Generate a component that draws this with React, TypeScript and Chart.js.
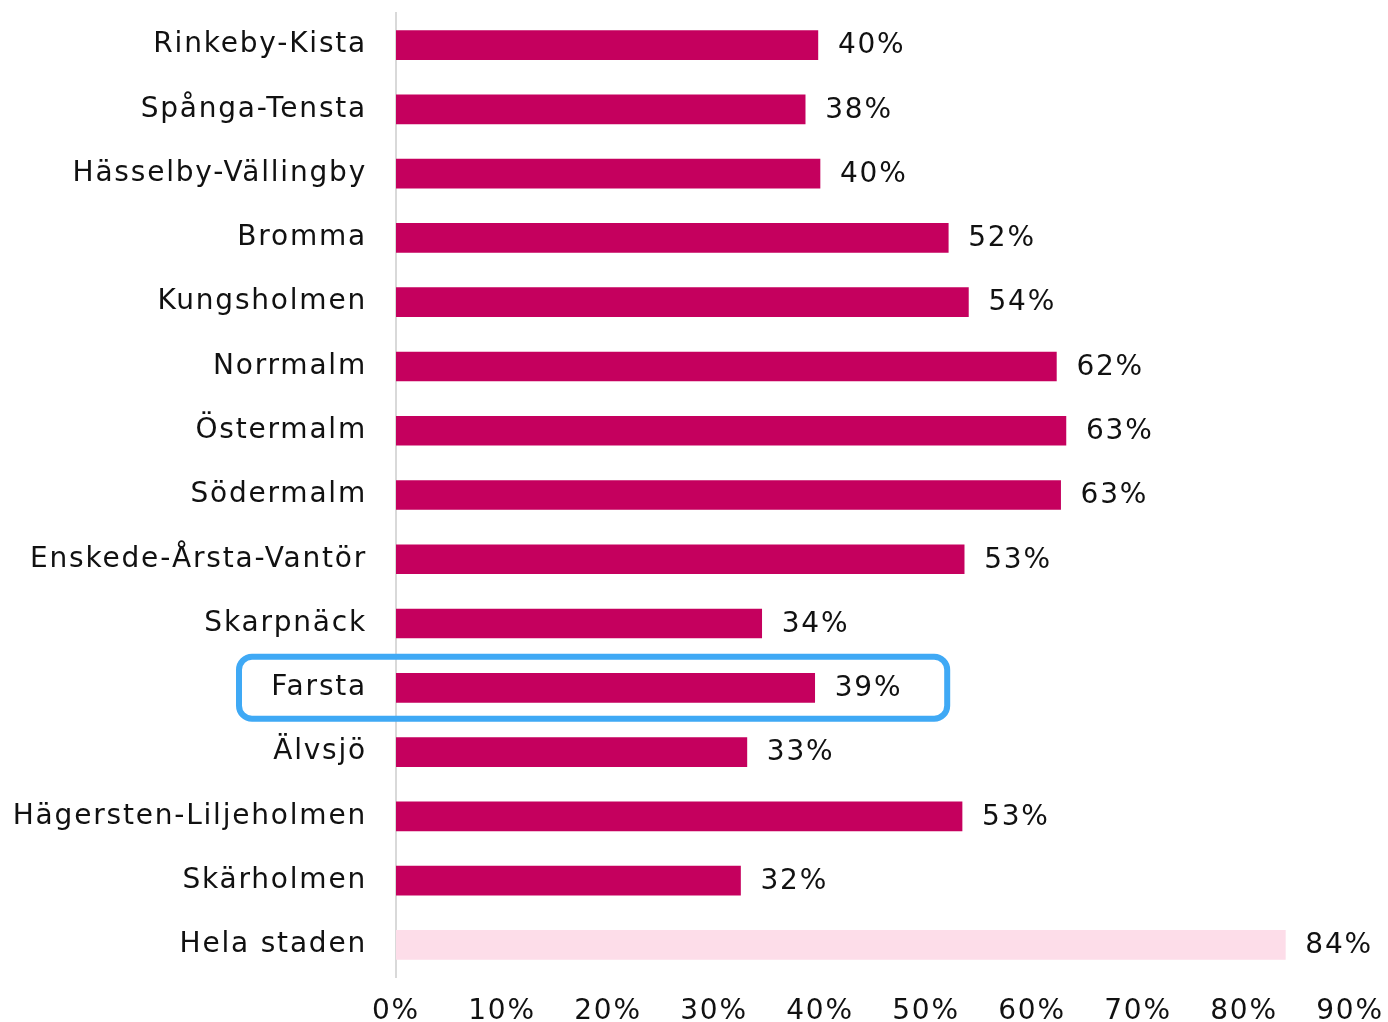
import React, { useEffect, useRef } from "react";
import { Chart, registerables } from "chart.js";

Chart.register(...registerables);

const categories = [
  "Rinkeby-Kista",
  "Spånga-Tensta",
  "Hässelby-Vällingby",
  "Bromma",
  "Kungsholmen",
  "Norrmalm",
  "Östermalm",
  "Södermalm",
  "Enskede-Årsta-Vantör",
  "Skarpnäck",
  "Farsta",
  "Älvsjö",
  "Hägersten-Liljeholmen",
  "Skärholmen",
  "Hela staden",
];

const values = [39.8, 38.6, 40.0, 52.1, 54.0, 62.3, 63.2, 62.7, 53.6, 34.5, 39.5, 33.1, 53.4, 32.5, 83.9];
const valueLabels = ["40%", "38%", "40%", "52%", "54%", "62%", "63%", "63%", "53%", "34%", "39%", "33%", "53%", "32%", "84%"];
const xTickValues = [0, 10, 20, 30, 40, 50, 60, 70, 80, 90];

const highlightCategory = "Farsta";
const highlightEndValue = 52;
const totalCategory = "Hela staden";

const FONT = "'DejaVu Sans', 'Liberation Sans', Arial, sans-serif";
const LETTER_SPACING = "1.8px";
const TEXT = "#111111";
const BAR = "#C5005E";
const BAR_TOTAL = "#FDDDE9";

export default function App() {
  const ref = useRef<HTMLCanvasElement | null>(null);

  useEffect(() => {
    if (!ref.current) return;

    const spacingPlugin = {
      id: "letterSpacing",
      beforeUpdate(chart: any) {
        (chart.ctx as any).letterSpacing = LETTER_SPACING;
      },
      beforeLayout(chart: any) {
        (chart.ctx as any).letterSpacing = LETTER_SPACING;
      },
      beforeDraw(chart: any) {
        (chart.ctx as any).letterSpacing = LETTER_SPACING;
      },
    };

    const valueLabelPlugin = {
      id: "valueLabels",
      afterDatasetsDraw(chart: any) {
        const ctx = chart.ctx;
        const meta = chart.getDatasetMeta(0);
        ctx.save();
        (ctx as any).letterSpacing = LETTER_SPACING;
        ctx.font = `28px ${FONT}`;
        ctx.fillStyle = TEXT;
        ctx.textAlign = "left";
        ctx.textBaseline = "middle";
        meta.data.forEach((bar: any, i: number) => {
          ctx.fillText(valueLabels[i], bar.x + 20, bar.y + 1);
        });
        ctx.restore();
      },
    };

    const highlightPlugin = {
      id: "highlightBox",
      afterDraw(chart: any) {
        const idx = categories.indexOf(highlightCategory);
        if (idx < 0) return;
        const { ctx, chartArea } = chart;
        const yS = chart.scales.y;
        const xS = chart.scales.x;
        const cy = yS.getPixelForValue(idx);
        const half = 31;
        const left = chartArea.left - 157;
        const right = xS.getPixelForValue(highlightEndValue);
        ctx.save();
        ctx.strokeStyle = "#3FA9F5";
        ctx.lineWidth = 6;
        ctx.beginPath();
        (ctx as any).roundRect(left, cy - half, right - left, half * 2, 13);
        ctx.stroke();
        ctx.restore();
      },
    };

    const chart = new Chart(ref.current, {
      type: "bar",
      data: {
        labels: categories,
        datasets: [
          {
            data: values,
            backgroundColor: categories.map((c) => (c === totalCategory ? BAR_TOTAL : BAR)),
            borderWidth: 0,
            barThickness: 29,
          },
        ],
      },
      options: {
        indexAxis: "y",
        animation: false,
        responsive: false,
        maintainAspectRatio: false,
        devicePixelRatio: 1,
        layout: { padding: { top: 13, right: 38, bottom: 0, left: 0 } },
        plugins: {
          legend: { display: false },
          tooltip: { enabled: false },
          title: { display: false },
        },
        scales: {
          x: {
            min: 0,
            max: 90,
            afterBuildTicks: (scale: any) => {
              scale.ticks = xTickValues.map((v) => ({ value: v }));
            },
            afterFit: (scale: any) => {
              scale.height = 45;
              scale.paddingLeft = 0;
              scale.paddingRight = 0;
              scale.paddingTop = 0;
              scale.paddingBottom = 0;
            },
            grid: { display: false, drawTicks: false },
            border: { display: false },
            ticks: {
              padding: 21,
              color: TEXT,
              font: { family: FONT, size: 28, lineHeight: 1 },
              callback: (v: any) => `${v}%`,
              maxRotation: 0,
              autoSkip: false,
            },
          },
          y: {
            grid: { display: false, drawTicks: false },
            border: { display: true, color: "#d9d9d9", width: 2 },
            afterFit: (scale: any) => {
              scale.width = 396;
              scale.paddingTop = 0;
              scale.paddingBottom = 0;
            },
            ticks: {
              padding: 29,
              color: TEXT,
              font: { family: FONT, size: 28 },
              autoSkip: false,
            },
          },
        },
      },
      plugins: [spacingPlugin, valueLabelPlugin, highlightPlugin],
    });

    return () => chart.destroy();
  }, []);

  return (
    <div style={{ position: "absolute", left: 0, top: 0, width: 1388, height: 1022, background: "#fff" }}>
      <canvas ref={ref} width={1388} height={1022} style={{ width: 1388, height: 1022 }} />
    </div>
  );
}
